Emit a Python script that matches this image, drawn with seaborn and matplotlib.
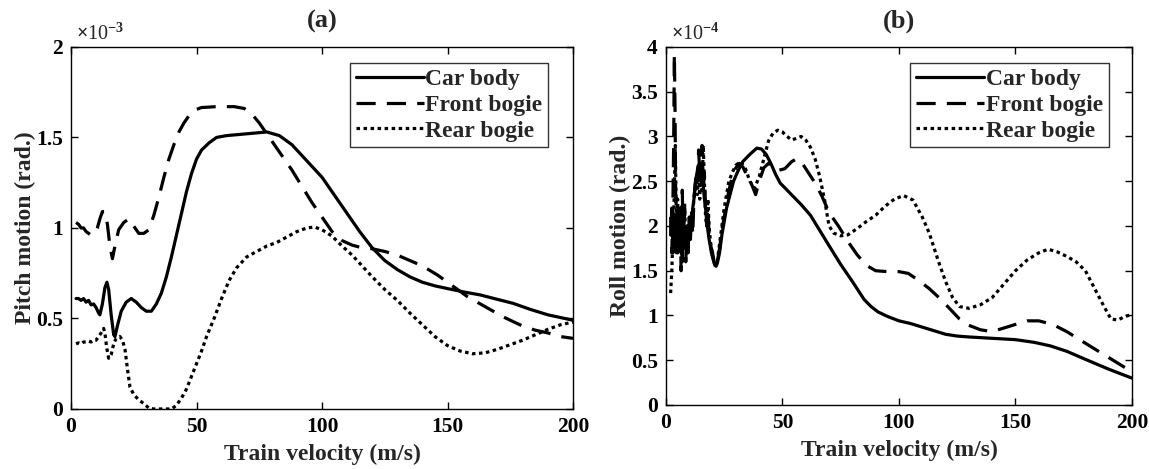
import pandas as pd
import matplotlib
matplotlib.use('Agg')
import matplotlib.pyplot as plt
import seaborn as sns

######################################################
# Values
# (a) pitch motion, units of 1e-3 rad
pitch_car_v = [2, 3, 4, 5, 6, 7, 8, 9, 10, 11, 11.5, 12.5, 13.5, 14.3, 15, 16, 17, 17.5, 18.5, 20,
               22, 24, 26, 28, 30, 32, 34, 36, 38, 40, 42, 44, 46, 48, 50, 52, 55, 58, 62, 70,
               78, 83, 88, 92, 96, 100, 105, 110, 115, 120, 125, 130, 135, 140, 145, 150, 157,
               163, 170, 176, 183, 190, 195, 200]
pitch_car = [0.61, 0.61, 0.60, 0.61, 0.59, 0.60, 0.575, 0.58, 0.56, 0.53, 0.52, 0.58, 0.67, 0.70,
             0.66, 0.52, 0.41, 0.40, 0.46, 0.54, 0.59, 0.61, 0.59, 0.56, 0.54, 0.54, 0.58, 0.64,
             0.73, 0.84, 0.96, 1.08, 1.20, 1.30, 1.38, 1.43, 1.47, 1.50, 1.51, 1.52, 1.53, 1.51,
             1.46, 1.40, 1.34, 1.28, 1.18, 1.08, 0.98, 0.89, 0.82, 0.77, 0.73, 0.70, 0.68, 0.665,
             0.645, 0.63, 0.605, 0.584, 0.55, 0.52, 0.505, 0.49]

pitch_front_v = [2, 3, 4, 5, 6, 7, 8, 9.5, 10.5, 11.5, 12.5, 13.5, 14.5, 15.5, 16.5, 17.5, 19, 21,
                 23, 25, 27, 29, 31, 33, 35, 37, 39, 41, 43, 45, 47, 49, 52, 58, 65, 69, 72, 75,
                 78, 81, 84, 88, 92, 96, 100, 104, 108, 112, 116, 120, 125, 130, 135, 140, 146,
                 152, 158, 165, 172, 179, 185, 190, 195, 200]
pitch_front = [1.03, 1.02, 1.00, 1.00, 0.98, 0.97, 0.96, 0.97, 1.00, 1.05, 1.09, 1.09, 1.02, 0.90,
               0.83, 0.90, 0.99, 1.03, 1.05, 1.01, 0.97, 0.97, 0.99, 1.07, 1.17, 1.28, 1.38, 1.46,
               1.53, 1.58, 1.62, 1.65, 1.665, 1.67, 1.67, 1.66, 1.63, 1.58, 1.52, 1.46, 1.40,
               1.32, 1.23, 1.14, 1.06, 0.98, 0.93, 0.905, 0.89, 0.885, 0.87, 0.85, 0.82, 0.79,
               0.74, 0.68, 0.62, 0.565, 0.51, 0.464, 0.435, 0.42, 0.40, 0.39]

pitch_rear_v = [2, 3, 4, 5, 6, 7, 8, 9, 10, 11, 12, 13, 13.5, 14.2, 15, 16, 17, 18, 19.5, 20.5,
                21.5, 22.5, 23.5, 25, 27, 29, 31, 33, 37, 40, 42, 44, 46, 48, 50, 52, 54, 57, 60,
                63, 66, 70, 74, 78, 82, 86, 90, 94, 97, 100, 104, 108, 112, 116, 120, 125, 130,
                135, 140, 145, 150, 155, 160, 165, 170, 175, 180, 185, 190, 195, 200]
pitch_rear = [0.36, 0.365, 0.36, 0.37, 0.37, 0.375, 0.37, 0.38, 0.38, 0.40, 0.42, 0.445, 0.42,
              0.34, 0.28, 0.30, 0.36, 0.39, 0.40, 0.38, 0.33, 0.22, 0.12, 0.08, 0.05, 0.03, 0.005,
              0.0, 0.0, 0.0, 0.02, 0.06, 0.11, 0.18, 0.25, 0.32, 0.40, 0.50, 0.61, 0.71, 0.78,
              0.84, 0.87, 0.90, 0.92, 0.95, 0.98, 1.00, 1.005, 0.99, 0.955, 0.90, 0.85, 0.79,
              0.73, 0.66, 0.60, 0.53, 0.465, 0.40, 0.35, 0.32, 0.305, 0.31, 0.33, 0.355, 0.38,
              0.41, 0.44, 0.465, 0.48]

# (b) roll motion, units of 1e-4 rad
roll_car_v = [2, 2.5, 3, 3.5, 4, 4.5, 5, 5.5, 6, 6.5, 7, 7.5, 8, 8.5, 9, 9.5, 10, 10.5, 11, 11.5,
              12, 12.5, 13, 13.5, 14, 14.5, 15, 15.5, 16, 16.5, 17, 17.5, 18, 18.5, 19, 19.5, 20,
              20.5, 21, 21.5, 22, 23, 24, 25, 26, 27.5, 29, 31, 33, 36, 39, 41, 43, 45, 47, 49,
              52, 55, 58, 62, 66, 70, 75, 80, 85, 88, 91, 95, 100, 105, 110, 115, 120, 125, 130,
              140, 150, 158, 165, 172, 180, 190, 200]
roll_car = [1.9, 2.2, 1.7, 2.1, 1.75, 2.0, 1.7, 2.2, 1.8, 1.95, 1.6, 2.05, 1.75, 1.9, 1.8, 2.0,
            1.85, 2.1, 2.0, 2.2, 2.3, 2.45, 2.55, 2.62, 2.68, 2.70, 2.65, 2.55, 2.45, 2.3, 2.2,
            2.05, 1.95, 1.85, 1.78, 1.7, 1.65, 1.6, 1.56, 1.55, 1.58, 1.7, 1.9, 2.05, 2.2, 2.35,
            2.5, 2.62, 2.72, 2.8, 2.87, 2.86, 2.8, 2.7, 2.58, 2.48, 2.4, 2.32, 2.24, 2.12, 1.95,
            1.78, 1.57, 1.38, 1.18, 1.1, 1.04, 0.99, 0.94, 0.91, 0.87, 0.83, 0.79, 0.77, 0.76,
            0.745, 0.73, 0.70, 0.66, 0.60, 0.51, 0.40, 0.30]

roll_front_v = [2, 2.5, 3, 3.3, 3.6, 3.9, 4.2, 4.5, 5, 5.5, 6, 6.5, 7, 7.5, 8, 8.5, 9, 9.5, 10,
                10.5, 11, 11.5, 12, 12.5, 13, 13.5, 14, 14.5, 15, 15.5, 16, 16.5, 17, 17.5, 18,
                18.5, 19, 19.5, 20, 20.5, 21, 21.5, 22, 23, 24, 25, 26, 27, 28.5, 30, 31.5, 33,
                35, 37, 38.5, 40, 42, 44, 46, 48, 51, 54, 56, 58, 61, 64, 67, 70, 74, 78, 82, 86,
                90, 95, 100, 104, 108, 113, 118, 122, 126, 130, 135, 140, 145, 150, 155, 160, 166,
                172, 180, 190, 200]
roll_front = [2.1, 1.7, 2.3, 2.9, 3.92, 3.3, 2.2, 1.7, 2.1, 1.65, 2.2, 1.5, 2.4, 1.75, 2.2, 1.6,
              2.0, 1.7, 2.1, 1.85, 2.15, 1.9, 2.3, 2.45, 2.6, 2.5, 2.85, 2.6, 2.5, 2.9, 2.4, 2.6,
              2.2, 2.0, 2.2, 1.9, 1.8, 1.75, 1.7, 1.62, 1.57, 1.55, 1.6, 1.75, 1.95, 2.1, 2.25,
              2.4, 2.55, 2.65, 2.7, 2.66, 2.55, 2.45, 2.35, 2.5, 2.65, 2.7, 2.65, 2.62, 2.64,
              2.72, 2.75, 2.72, 2.6, 2.48, 2.33, 2.15, 2.0, 1.83, 1.68, 1.56, 1.5, 1.49, 1.49,
              1.47, 1.40, 1.30, 1.18, 1.07, 0.96, 0.89, 0.84, 0.82, 0.86, 0.90, 0.94, 0.94, 0.90,
              0.82, 0.69, 0.53, 0.37]

roll_rear_v = [2, 2.5, 3, 3.5, 4, 4.5, 5, 5.5, 6, 6.5, 7, 7.5, 8, 8.5, 9, 9.5, 10, 10.5, 11,
               11.5, 12, 12.5, 13, 13.5, 14, 14.5, 15, 15.5, 16, 16.5, 17, 17.5, 18, 18.5, 19,
               19.5, 20, 20.5, 21, 21.5, 22, 23, 24, 25, 26, 27, 28.5, 30, 32, 34, 36, 38, 40,
               42, 44, 46, 48, 50, 52, 54, 56, 58, 60, 62, 64, 66, 68, 70, 72, 75, 78, 82, 86,
               90, 94, 98, 102, 106, 110, 113, 117, 120, 123, 126, 130, 135, 140, 145, 150, 155,
               160, 164, 168, 172, 176, 180, 184, 188, 191, 194, 197, 200]
roll_rear = [1.25, 1.5, 1.9, 2.3, 2.9, 2.0, 2.3, 1.7, 2.1, 1.75, 2.0, 1.8, 2.25, 1.8, 1.95, 2.0,
             1.85, 2.1, 1.95, 2.15, 2.3, 2.4, 2.5, 2.35, 2.6, 2.3, 2.7, 2.4, 2.9, 2.5, 2.1, 2.0,
             2.3, 2.0, 1.85, 1.75, 1.68, 1.62, 1.58, 1.56, 1.6, 1.8, 2.0, 2.2, 2.35, 2.5, 2.6,
             2.68, 2.72, 2.65, 2.5, 2.42, 2.55, 2.75, 2.95, 3.04, 3.07, 3.05, 3.0, 2.96, 2.98,
             3.0, 2.96, 2.88, 2.75, 2.55, 2.3, 2.0, 1.92, 1.89, 1.9, 1.97, 2.05, 2.12, 2.22,
             2.3, 2.34, 2.29, 2.1, 1.92, 1.6, 1.38, 1.2, 1.1, 1.08, 1.12, 1.2, 1.35, 1.5, 1.62,
             1.7, 1.74, 1.71, 1.66, 1.6, 1.5, 1.3, 1.1, 0.96, 0.95, 0.99, 1.01]

labels = ['Car body', 'Front bogie', 'Rear bogie']
styles = ['-', (0, (6, 3.5)), (0, (1.1, 1.1))]

pitch = pd.concat([
    pd.DataFrame({'v': pitch_car_v, 'val': pitch_car, 'part': labels[0]}),
    pd.DataFrame({'v': pitch_front_v, 'val': pitch_front, 'part': labels[1]}),
    pd.DataFrame({'v': pitch_rear_v, 'val': pitch_rear, 'part': labels[2]}),
])
roll = pd.concat([
    pd.DataFrame({'v': roll_car_v, 'val': roll_car, 'part': labels[0]}),
    pd.DataFrame({'v': roll_front_v, 'val': roll_front, 'part': labels[1]}),
    pd.DataFrame({'v': roll_rear_v, 'val': roll_rear, 'part': labels[2]}),
])

sns.set_style('ticks')
plt.rcParams['font.family'] = ['Liberation Serif', 'DejaVu Serif']
plt.rcParams['font.weight'] = 'bold'
plt.rcParams['axes.labelweight'] = 'bold'
plt.rcParams['axes.titleweight'] = 'bold'
plt.rcParams['mathtext.fontset'] = 'custom'
plt.rcParams['mathtext.rm'] = 'Liberation Serif'
plt.rcParams['mathtext.default'] = 'rm'

fig = plt.figure(figsize=(11.49, 4.69), dpi=100)
ax1 = fig.add_axes([0.0618, 0.128, 0.4369, 0.772])
ax2 = fig.add_axes([0.5796, 0.1365, 0.4056, 0.7633])

panels = [
    (ax1, pitch, 'Pitch motion (rad.)', 2, [0, 0.5, 1, 1.5, 2], ['0', '0.5', '1', '1.5', '2'], '-3', '(a)'),
    (ax2, roll, 'Roll motion (rad.)', 4, [0, 0.5, 1, 1.5, 2, 2.5, 3, 3.5, 4],
     ['0', '0.5', '1', '1.5', '2', '2.5', '3', '3.5', '4'], '-4', '(b)'),
]

for ax, df, ylab, ymax, yt, ytl, expo, title in panels:
    for lab, ls in zip(labels, styles):
        sns.lineplot(data=df[df['part'] == lab], x='v', y='val', ax=ax, color='black',
                     linewidth=2.3, linestyle=ls, estimator=None, sort=False, label=lab)
    for ln in ax.get_lines():
        ln.set_dash_capstyle('butt')
    ax.set_xlim(0, 200)
    ax.set_ylim(0, ymax)
    ax.set_xticks([0, 50, 100, 150, 200])
    ax.set_xticklabels(['0', '50', '100', '150', '200'])
    ax.set_yticks(yt)
    ax.set_yticklabels(ytl)
    ax.tick_params(direction='in', top=True, right=True, labelsize=15.5, length=5, width=1,
                   colors='black', pad=6)
    for sp in ax.spines.values():
        sp.set_visible(True)
        sp.set_linewidth(1)
        sp.set_color('black')
    ax.set_xlabel('Train velocity (m/s)', fontsize=17, labelpad=5)
    ax.set_ylabel(ylab, fontsize=17, labelpad=0)
    ax.set_title(title, fontsize=19, pad=14)
    ax.text(0.01, 1.005, r'$\times$10$^{' + expo + '}$', transform=ax.transAxes,
            fontsize=14.5, fontweight='normal', ha='left', va='bottom')
    leg = ax.legend(loc='upper right', bbox_to_anchor=(0.965, 0.975), fontsize=17,
                    handlelength=2.9, handletextpad=0.05, labelspacing=0.17,
                    borderpad=0.25, borderaxespad=0.3, frameon=True, fancybox=False)
    leg.get_frame().set_edgecolor('black')
    leg.get_frame().set_linewidth(1)

fig.savefig('out.png', dpi=100)
